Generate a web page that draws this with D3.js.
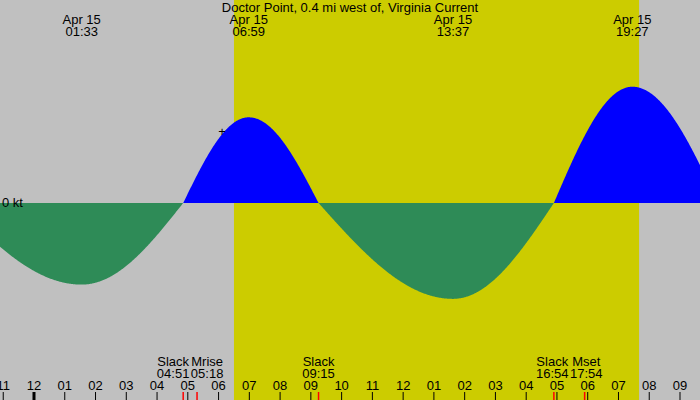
<!DOCTYPE html>
<html><head><meta charset="utf-8">
<script src="https://cdn.jsdelivr.net/npm/d3@7"></script>
<style>body{margin:0}svg{display:block;font-family:"Liberation Sans",Arial,sans-serif;font-size:13px}</style>
</head><body><svg id="chart" width="700" height="400"></svg>
<script>
// hours since midnight Apr 15, current in knots
var eventHours = [-2.6, 1.55, 4.85, 6.98, 9.25, 13.62, 16.9, 19.45, 22.24];
var eventValues = [0, -0.8, 0, 0.84, 0, -0.94, 0, 1.14, 0];
var peakLabels = ["01:33", "06:59", "13:37", "19:27"];
var peakHours = [1.55, 6.98, 13.62, 19.45];
var markNames = ["Slack", "Mrise", "Slack", "Slack", "Mset"];
var markTimes = ["04:51", "05:18", "09:15", "16:54", "17:54"];
var markHours = [4.85, 5.3, 9.25, 16.9, 17.9];
var hourTicks = d3.range(-1, 22);
var sunrise = 6.5, sunset = 19.67;

var svg = d3.select("#chart");
var x = d3.scaleLinear().domain([0, 21]).range([34, 680]);
var y = d3.scaleLinear().domain([0, 1]).range([203, 101]);

svg.append("rect").attr("width", 700).attr("height", 400).attr("fill", "#c0c0c0");
svg.append("rect").attr("x", x(sunrise)).attr("width", x(sunset) - x(sunrise))
  .attr("height", 400).attr("fill", "#cccc00");

// quarter sine waves between slack and peak events
function current(h) {
  for (var i = 0; i < eventHours.length - 1; i++) {
    var a = eventHours[i], b = eventHours[i + 1];
    if (h >= a && h <= b) {
      var t = (h - a) / (b - a);
      var va = eventValues[i], vb = eventValues[i + 1];
      return va === 0 ? vb * Math.sin(Math.PI / 2 * t) : va * Math.cos(Math.PI / 2 * t);
    }
  }
  return 0;
}
var hs = d3.range(x.invert(0), x.invert(700) + 0.01, 0.02);
var pts = hs.map(function(h) { return [h, current(h)]; });

svg.append("clipPath").attr("id", "pos").append("rect").attr("width", 700).attr("height", y(0));
svg.append("clipPath").attr("id", "neg").append("rect").attr("y", y(0)).attr("width", 700).attr("height", 400);
var area = d3.area().x(function(d) { return x(d[0]); }).y0(y(0)).y1(function(d) { return y(d[1]); });
svg.append("path").datum(pts).attr("d", area).attr("fill", "#0000ff").attr("clip-path", "url(#pos)");
svg.append("path").datum(pts).attr("d", area).attr("fill", "#2e8b57").attr("clip-path", "url(#neg)");

svg.append("text").attr("x", 2).attr("y", 207).text("0 kt");
svg.append("text").attr("x", 222).attr("y", 136).attr("text-anchor", "middle").text("+");

svg.append("text").attr("x", 350).attr("y", 12).attr("text-anchor", "middle")
  .text("Doctor Point, 0.4 mi west of, Virginia Current");
var pk = svg.selectAll(".pk").data(peakHours).enter().append("g")
  .attr("transform", function(d) { return "translate(" + x(d) + ",0)"; });
pk.append("text").attr("y", 24).attr("text-anchor", "middle").text("Apr 15");
pk.append("text").attr("y", 36).attr("text-anchor", "middle").text(function(d, i) { return peakLabels[i]; });

// hour axis
var axis = svg.append("g");
axis.selectAll("line").data(hourTicks).enter().append("line")
  .attr("x1", function(d) { return x(d); }).attr("x2", function(d) { return x(d); })
  .attr("y1", 392).attr("y2", 400).attr("stroke", "#000")
  .attr("stroke-width", function(d) { return d === 0 ? 3 : 1; });
axis.selectAll("text").data(hourTicks).enter().append("text")
  .attr("x", function(d) { return x(d); }).attr("y", 390).attr("text-anchor", "middle")
  .text(function(d) { var hr = ((d % 12) + 12) % 12; return d3.format("02")(hr === 0 ? 12 : hr); });

// event marks, spread apart when labels collide
var cx = markHours.map(function(h) { return x(h); });
for (var i = 0; i < cx.length - 1; i++) {
  var overlap = 34 - (cx[i + 1] - cx[i]);
  if (overlap > 0) { cx[i] -= overlap / 2; cx[i + 1] += overlap / 2; }
}
svg.selectAll(".mk").data(markHours).enter().append("line")
  .attr("x1", function(d) { return x(d); }).attr("x2", function(d) { return x(d); })
  .attr("y1", 392).attr("y2", 400).attr("stroke", "#ff0000").attr("stroke-width", 1.5);
var ml = svg.selectAll(".ml").data(markHours).enter().append("g")
  .attr("transform", function(d, i) { return "translate(" + cx[i] + ",0)"; });
ml.append("text").attr("y", 366).attr("text-anchor", "middle").text(function(d, i) { return markNames[i]; });
ml.append("text").attr("y", 378).attr("text-anchor", "middle").text(function(d, i) { return markTimes[i]; });
</script></body></html>
